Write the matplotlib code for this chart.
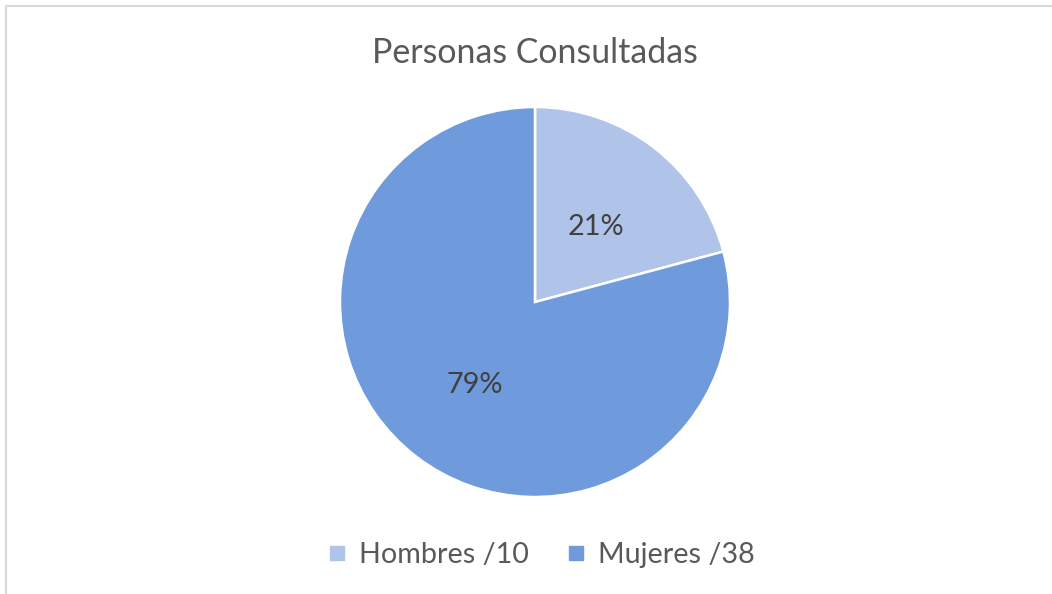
import matplotlib
matplotlib.use("Agg")
import matplotlib.pyplot as plt
from matplotlib.lines import Line2D
from matplotlib.patches import Rectangle

categories = ["Hombres /10", "Mujeres /38"]
values = [10, 38]
colors = ["#b0c4e9", "#6f9bdc"]
title = "Personas Consultadas"

W, H = 1052, 594
fig = plt.figure(figsize=(W / 100, H / 100), dpi=100)
fig.patch.set_facecolor("white")

font = "Lato"

# border of chart area
fig.add_artist(Rectangle((5.5 / W, -0.1), 1.2, 1.1 - 5.5 / H, transform=fig.transFigure,
                         fill=False, edgecolor="#d9d9d9", linewidth=1.5))

cx, cy, r = 535, 302, 195
ax = fig.add_axes([(cx - r) / W, (H - cy - r) / H, 2 * r / W, 2 * r / H])
wedges, texts, autotexts = ax.pie(
    values, colors=colors, startangle=90, counterclock=False, radius=1,
    autopct=lambda p: f"{p:.0f}%", pctdistance=0.51,
    wedgeprops=dict(edgecolor="white", linewidth=1.8),
    textprops=dict(fontsize=20.8, color="#404040", family=font),
)
for t in autotexts:
    x, y = t.get_position()
    t.set_position((x, y - 0.022))
ax.set_xlim(-1, 1)
ax.set_ylim(-1, 1)
ax.set_aspect("equal")
ax.axis("off")

fig.text(535 / W, 1 - 53 / H, title, ha="center", va="center", fontsize=24.4,
         color="#595959", family=font)

handles = [Line2D([0], [0], marker="s", linestyle="none", markersize=10,
                  markerfacecolor=c, markeredgecolor=c) for c in colors]
fig.legend(handles, categories, loc="center", bbox_to_anchor=(541 / W, 1 - 555 / H),
           ncol=2, frameon=False, prop=dict(family=font, size=20.7),
           labelcolor="#595959", handletextpad=0.4, columnspacing=1.3,
           handlelength=0.7)

fig.savefig("out.png", dpi=100, facecolor="white")
